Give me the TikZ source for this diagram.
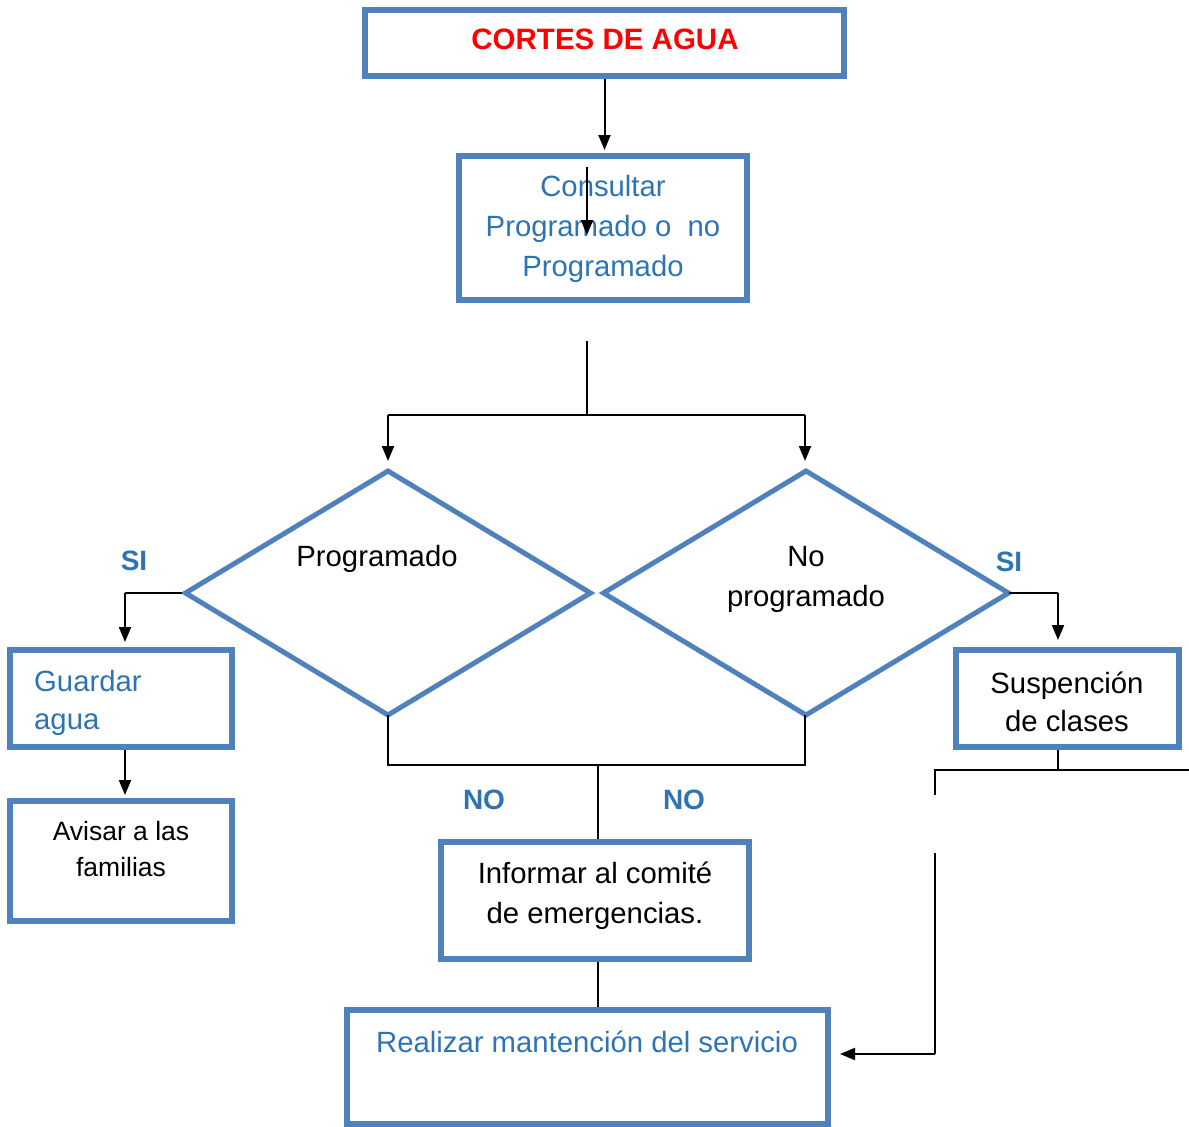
\documentclass[tikz,border=0pt]{standalone}
\usepackage{fontspec}
\setmainfont{Liberation Sans}
\usetikzlibrary{shapes.geometric,arrows.meta,calc}
\definecolor{bblue}{RGB}{79,129,189}
\definecolor{tblue}{RGB}{46,116,181}
\begin{document}
\begin{tikzpicture}[x=1pt,y=-1pt,
  box/.style={draw=bblue, line width=6pt, rectangle, inner sep=0pt},
  diam/.style={draw=bblue, line width=5pt, diamond, inner sep=0pt, outer sep=0pt,
    minimum width=405pt, minimum height=244pt},
  txt/.style={inner sep=0pt, align=center, font=\fontsize{29.3}{40}\selectfont},
  btxt/.style={txt, text=tblue},
  lbl/.style={inner sep=0pt, text=tblue, font=\fontsize{28}{34}\selectfont\bfseries},
  arr/.style={line width=2pt, -{Triangle[length=15pt,width=12pt]}},
  ln/.style={line width=1.4pt}]
\useasboundingbox (0,0) rectangle (1189,1127);

% boxes
\node[box, minimum width=479pt, minimum height=66pt] (b1) at (604.5,43) {};
\node[box, minimum width=288pt, minimum height=144pt] (b2) at (603,228) {};
\node[box, minimum width=222pt, minimum height=97pt] (g) at (121,698.5) {};
\node[box, minimum width=222pt, minimum height=120pt] (a) at (121,861) {};
\node[box, minimum width=223pt, minimum height=97pt] (s) at (1067.5,698.5) {};
\node[box, minimum width=308pt, minimum height=117pt] (i) at (595,900.5) {};
\node[box, minimum width=481pt, minimum height=114pt] (r) at (587.5,1067) {};

% decisions
\node[diam] (d1) at (388,593) {};
\node[diam] (d2) at (806,593) {};

% texts
\node[inner sep=0pt, text=red, font=\fontsize{29.5}{36}\selectfont\bfseries] (t0) at (605,39) {CORTES DE AGUA};
\node[btxt] (t1) at (603,229) {Consultar\\Programado o\ \ no\\Programado};
\node[btxt, align=left, anchor=west, font=\fontsize{29.3}{38}\selectfont] (t2) at (34,703) {Guardar\\agua};
\node[txt, font=\fontsize{26.5}{36}\selectfont] (t3) at (121,849) {Avisar a las\\familias};
\node[txt, font=\fontsize{29.3}{38}\selectfont] (t4) at (1067,702) {Suspención\\de clases};
\node[txt] (t5) at (595,896) {Informar al comité\\de emergencias.};
\node[btxt] (t6) at (587,1042) {Realizar mantención del servicio};
\node[txt] (t7) at (377,559) {Programado};
\node[txt] (t8) at (806,579) {No\\programado};

% branch labels
\node[lbl] (si1) at (134,561) {SI};
\node[lbl] (si2) at (1009,562) {SI};
\node[lbl] (no1) at (484,800) {NO};
\node[lbl] (no2) at (684,800) {NO};

% connector points
\coordinate (ia) at (587,167);
\coordinate (ib) at (587,235);
\coordinate (c1) at (587,341);
\coordinate (c2) at (587,415);
\coordinate (cl) at (388,415);
\coordinate (cr) at (805,415);
\coordinate (m) at (598,765);
\coordinate (jr) at (1058,770);
\coordinate (jl) at (935,770);
\coordinate (je) at (1189,770);
\coordinate (jd) at (935,795);
\coordinate (ju) at (935,853);
\coordinate (jb) at (935,1054);

% connectors
\draw[arr] (b1.south) -- ([yshift=3pt]b1.south |- b2.north);
\draw[arr] (ia) -- (ib);
\draw[ln] (c1) -- (c2);
\draw[ln] (cl) -- (cr);
\draw[arr] (cl) -- ([yshift=10pt]cl |- d1.north);
\draw[arr] (cr) -- ([yshift=10pt]cr |- d2.north);

\draw[ln] ([xshift=-4pt]d1.west) -- ([xshift=4pt]d1.west -| g.north);
\draw[arr] ([xshift=4pt]d1.west -| g.north) -- ([xshift=4pt,yshift=5pt]g.north);
\draw[arr] ([xshift=4pt]g.south) -- ([xshift=4pt,yshift=3pt]a.north);

\draw[ln] (d2.east) -- ([xshift=-9.5pt]d2.east -| s.north);
\draw[arr] ([xshift=-9.5pt]d2.east -| s.north) -- ([xshift=-9.5pt,yshift=7pt]s.north);
\draw[ln] ([xshift=-9.5pt]s.south) -- (jr);
\draw[ln] (je) -- (jl) -- (jd);
\draw[ln] (ju) -- (jb);
\draw[arr] (jb) -- ([xshift=9pt,yshift=13pt]r.east);

\draw[ln] (d1.south) |- (m) -| ([xshift=-1pt]d2.south);
\draw[ln] (m) -- (m |- i.north);
\draw[ln] ([xshift=3pt]i.south) -- ([xshift=3pt]i.south |- r.north);
\end{tikzpicture}
\end{document}
